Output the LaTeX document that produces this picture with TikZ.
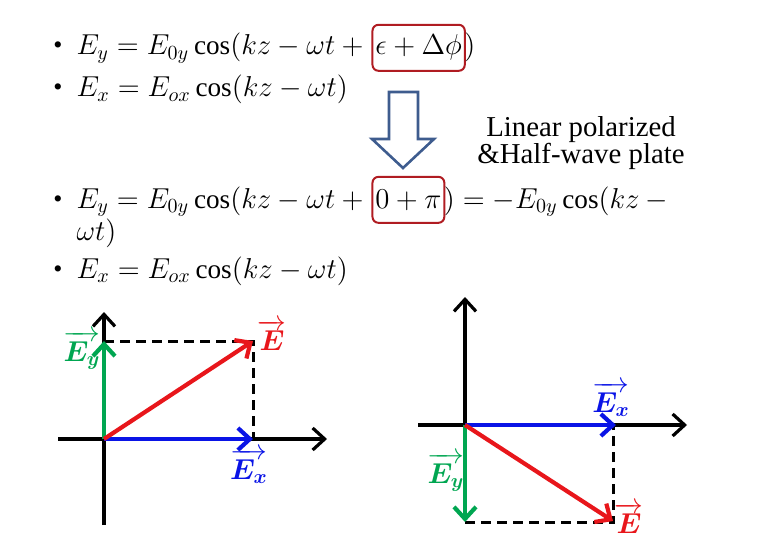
\documentclass[tikz,border=0pt]{standalone}
\usepackage{fontspec}
\usepackage{amsmath,bm}
\setmainfont{Liberation Serif}
\usetikzlibrary{arrows.meta, positioning}
\definecolor{cred}{HTML}{E8161B}
\definecolor{cblue}{HTML}{0A14E6}
\definecolor{cgreen}{HTML}{00A651}
\definecolor{cframe}{HTML}{B01C22}
\definecolor{cnavy}{HTML}{3E5C8E}
\tikzset{
  every picture/.style={line width=1.5pt},
  eq/.style={inner sep=0pt, font=\fontsize{13.6}{16}\selectfont, anchor=base west},
  dot/.style={inner sep=0pt, font=\fontsize{13}{15}\selectfont, anchor=base},
  redbox/.style={draw=cframe, line width=1pt, rounded corners=3pt, inner xsep=1.5pt, minimum height=23pt, anchor=base west, font=\fontsize{13.6}{16}\selectfont},
  axis/.style={-{Straight Barb[length=6pt,width=11pt]}, line width=1.6pt},
  vec/.style={-{Straight Barb[length=6pt,width=11pt]}, draw=#1, line width=2.1pt},
  guide/.style={dash pattern=on 5pt off 3pt, line width=1.5pt},
  tag/.style={text=#1, font=\fontsize{14}{16}\selectfont, inner sep=0pt},
}

\begin{document}
\begin{tikzpicture}[x=0.5pt, y=-0.5pt]
  \useasboundingbox (0,0) rectangle (780,540);
  \foreach \y in {55,97,208,278} \node[dot] (b\y) at (58,\y-1) {\textbullet};
  \node[eq] (q1a) at (75,55) {$E_y = E_{0y}\cos(kz-\omega t+{}$};
  \node[redbox] (q1b) at (q1a.base east) {$\epsilon+\Delta\phi$};
  \node[eq] (q1c) at ([xshift=-1.5pt]q1b.base east) {$)$};
  \node[eq] (q2) at (75,97) {$E_x = E_{ox}\cos(kz-\omega t)$};
  \node[eq] (q3a) at (75,208) {$E_y = E_{0y}\cos(kz-\omega t+{}$};
  \node[redbox] (q3b) at (q3a.base east) {$0+\pi$};
  \node[eq] (q3c) at ([xshift=-1.5pt]q3b.base east) {$) = -E_{0y}\cos(kz-{}$};
  \node[eq] (q3d) at (75,240) {$\omega t)$};
  \node[eq] (q4) at (75,278) {$E_x = E_{ox}\cos(kz-\omega t)$};
  \draw[cnavy, line width=1.3pt] (389,92) -- (418,92) -- (418,139) -- (434,139) -- (403,168) -- (372,139) -- (389,139) -- cycle;
  \node[align=center, font=\fontsize{14.4}{13.5}\selectfont] (note) at (581,143) {Linear polarized\\\&Half-wave plate};

  \coordinate (oL) at (104,439);
  \coordinate (xL1) at (58,439);
  \coordinate (xL2) at (327,439);
  \coordinate (yL1) at (104,525);
  \coordinate (yL2) at (104,312);
  \coordinate (exL) at (253,439);
  \coordinate (eyL) at (104,341);
  \coordinate (eL) at (253,341);
  \draw[guide] (eyL) -- (eL) -- (exL);
  \draw[axis] (xL1) -- (xL2);
  \draw[axis] (yL1) -- (yL2);
  \draw[vec=cblue] (oL) -- (exL);
  \draw[vec=cgreen] (oL) -- (eyL);
  \draw[vec=cred] (oL) -- (eL);
  \node[tag=cred] (tEL) at (272,335) {$\overrightarrow{\bm{E}}$};
  \node[tag=cgreen] (tEyL) at (82,350) {$\overrightarrow{\bm{E_y}}$};
  \node[tag=cblue] (tExL) at (249,466) {$\overrightarrow{\bm{E_x}}$};

  \coordinate (oR) at (465,425);
  \coordinate (xR1) at (418,425);
  \coordinate (xR2) at (687,425);
  \coordinate (yR2) at (465,297);
  \coordinate (exR) at (616,425);
  \coordinate (eyR) at (465,522);
  \coordinate (eR) at (613,521);
  \coordinate (dR) at (613,425);
  \coordinate (cR) at (613,522);
  \draw[guide] (eyR) -- (cR) -- (dR);
  \draw[axis] (xR1) -- (xR2);
  \draw[axis] (oR) -- (yR2);
  \draw[vec=cblue] (oR) -- (exR);
  \draw[vec=cgreen] (oR) -- (eyR);
  \draw[vec=cred] (oR) -- (eR);
  \node[tag=cblue] (tExR) at (611,399) {$\overrightarrow{\bm{E_x}}$};
  \node[tag=cgreen] (tEyR) at (446,472) {$\overrightarrow{\bm{E_y}}$};
  \node[tag=cred] (tER) at (629,518) {$\overrightarrow{\bm{E}}$};
\end{tikzpicture}
\end{document}
